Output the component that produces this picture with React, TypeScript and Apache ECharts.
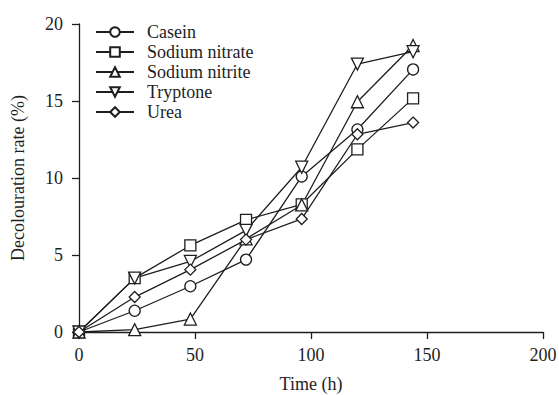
import React, { useEffect, useRef } from "react";
import * as echarts from "echarts";

const times = [0, 24, 48, 72, 96, 120, 144];
const casein = [0, 1.38, 2.97, 4.7, 10.1, 13.15, 17.05];
const sodiumNitrate = [0, 3.5, 5.62, 7.28, 8.29, 11.86, 15.17];
const sodiumNitrite = [0, 0.15, 0.84, 6.05, 8.25, 14.95, 18.6];
const tryptone = [0, 3.5, 4.58, 6.6, 10.7, 17.4, 18.2];
const urea = [0, 2.27, 4.05, 6.0, 7.34, 12.84, 13.6];

const seriesNames = ["Casein", "Sodium nitrate", "Sodium nitrite", "Tryptone", "Urea"];
const seriesValues = [casein, sodiumNitrate, sodiumNitrite, tryptone, urea];
const symbols = [
  "circle",
  "rect",
  "triangle",
  "path://M0,0L2,0L1,1.73Z",
  "diamond",
];
const symbolSizes = [11, 11, 12, 12, 11];

const FONT = "'Liberation Serif', 'Times New Roman', serif";
const INK = "#1e1e1e";

export default function App() {
  const ref = useRef<HTMLDivElement>(null);
  useEffect(() => {
    if (!ref.current) return;
    const chart = echarts.init(ref.current, undefined, { renderer: "svg" });
    chart.setOption({
      animation: false,
      backgroundColor: "#ffffff",
      grid: { left: 79, right: 16, top: 24, bottom: 63, outerBoundsMode: "none", containLabel: false },
      legend: {
        orient: "vertical",
        left: 90,
        top: 18,
        itemWidth: 38,
        itemHeight: 12,
        itemGap: 2,
        data: seriesNames,
        textStyle: { fontFamily: FONT, fontSize: 18, color: INK, padding: [0, 0, 0, 8] },
      },
      xAxis: {
        type: "value",
        min: 0,
        max: 200,
        interval: 50,
        name: "Time (h)",
        nameLocation: "middle",
        nameGap: 43,
        nameTextStyle: { fontFamily: FONT, fontSize: 18, color: INK },
        axisLine: { lineStyle: { color: INK, width: 1.3 } },
        axisTick: { inside: false, length: 7, lineStyle: { color: INK, width: 1.3 } },
        axisLabel: { fontFamily: FONT, fontSize: 18, color: INK, margin: 14 },
        splitLine: { show: false },
      },
      yAxis: {
        type: "value",
        min: 0,
        max: 20,
        interval: 5,
        name: "Decolouration rate (%)",
        nameLocation: "middle",
        nameGap: 52,
        nameTextStyle: { fontFamily: FONT, fontSize: 18, color: INK },
        axisLine: { show: true, lineStyle: { color: INK, width: 1.3 } },
        axisTick: { show: true, inside: false, length: 7, lineStyle: { color: INK, width: 1.3 } },
        axisLabel: { fontFamily: FONT, fontSize: 18, color: INK, margin: 16 },
        splitLine: { show: false },
      },
      series: seriesNames.map((name, i) => ({
        name,
        type: "line",
        data: times.map((t, j) => [t, seriesValues[i][j]]),
        symbol: symbols[i],
        symbolSize: symbolSizes[i],
        showAllSymbol: true,
        lineStyle: { color: INK, width: 1.3 },
        itemStyle: { color: "#ffffff", borderColor: INK, borderWidth: 1.3 },
        emphasis: { disabled: true },
      })),
    });
    return () => chart.dispose();
  }, []);
  return (
    <div
      ref={ref}
      style={{ position: "fixed", left: 0, top: 0, width: 559, height: 395 }}
    />
  );
}
